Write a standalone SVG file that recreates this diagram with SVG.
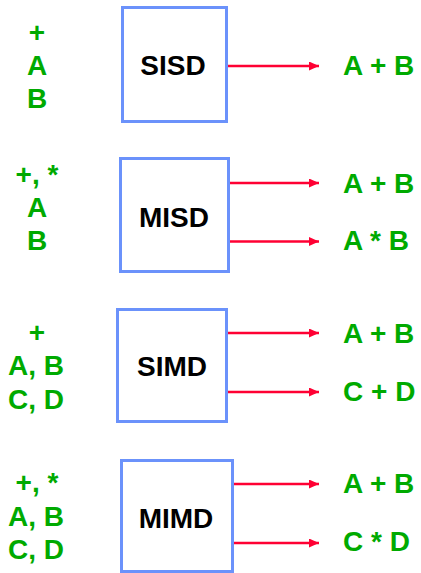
<svg xmlns="http://www.w3.org/2000/svg" width="421" height="573" viewBox="0 0 421 573">
<style>
.box{fill:#fff;stroke:#6b92fb;stroke-width:3}
.t{font-family:"Liberation Sans",Arial,sans-serif;font-weight:bold;font-size:28px}
.g{fill:#00aa00}
.k{fill:#000}
.c{text-anchor:middle}
.a{stroke:#ff0033;stroke-width:2.5;fill:none;marker-end:url(#ah)}
</style>
<defs>
<marker id="ah" markerUnits="userSpaceOnUse" markerWidth="12" markerHeight="10" refX="10" refY="4.5" orient="auto">
<path d="M0,0 L10,4.5 L0,9 Z" fill="#ff0033"/>
</marker>
</defs>
<rect width="421" height="573" fill="#fff"/>
<g id="connectors">
<line class="a" x1="228" y1="66" x2="319" y2="66"/>
<line class="a" x1="230" y1="183" x2="319" y2="183"/>
<line class="a" x1="230" y1="241.5" x2="319" y2="241.5"/>
<line class="a" x1="228" y1="333" x2="319" y2="333"/>
<line class="a" x1="228" y1="392" x2="319" y2="392"/>
<line class="a" x1="234" y1="484" x2="319" y2="484"/>
<line class="a" x1="234" y1="543" x2="319" y2="543"/>
</g>
<g id="sisd">
<text class="t g c" x="37" y="42">+</text>
<text class="t g c" x="37" y="75">A</text>
<text class="t g c" x="37" y="108">B</text>
<rect class="box" x="122.5" y="7.5" width="104" height="114"/>
<text class="t k c" x="173" y="75">SISD</text>
<text class="t g" x="343" y="75">A + B</text>
</g>
<g id="misd">
<text class="t g c" x="37" y="184">+, *</text>
<text class="t g c" x="37" y="217">A</text>
<text class="t g c" x="37" y="250">B</text>
<rect class="box" x="120.5" y="158.5" width="108" height="113"/>
<text class="t k c" x="174" y="227">MISD</text>
<text class="t g" x="343" y="193">A + B</text>
<text class="t g" x="343" y="250">A * B</text>
</g>
<g id="simd">
<text class="t g c" x="37" y="342">+</text>
<text class="t g c" x="36" y="375">A, B</text>
<text class="t g c" x="36" y="409">C, D</text>
<rect class="box" x="117.5" y="309.5" width="109" height="112"/>
<text class="t k c" x="172" y="376">SIMD</text>
<text class="t g" x="343" y="343">A + B</text>
<text class="t g" x="343" y="401">C + D</text>
</g>
<g id="mimd">
<text class="t g c" x="37" y="492">+, *</text>
<text class="t g c" x="36" y="526">A, B</text>
<text class="t g c" x="36" y="559">C, D</text>
<rect class="box" x="121.5" y="460.5" width="111" height="111"/>
<text class="t k c" x="176" y="528">MIMD</text>
<text class="t g" x="343" y="493">A + B</text>
<text class="t g" x="343" y="551">C * D</text>
</g>
</svg>
